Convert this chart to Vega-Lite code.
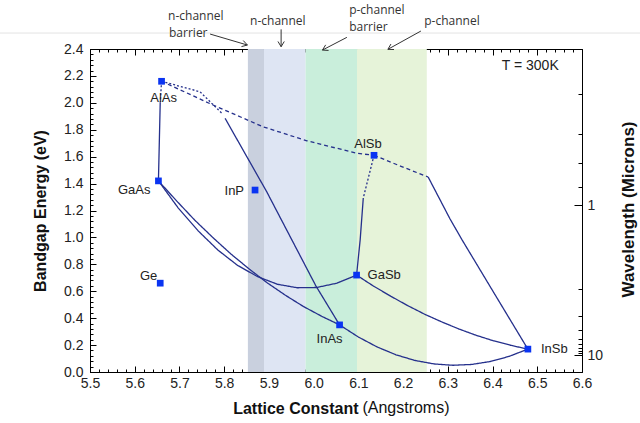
{
"$schema": "https://vega.github.io/schema/vega-lite/v6.json",
"width": 492, "height": 323, "autosize": "none",
"padding": {"left": 90, "top": 49, "right": 58, "bottom": 51},
"background": "#ffffff",
"config": {
  "font": "Liberation Sans",
  "view": {"stroke": "#000000", "strokeWidth": 1},
  "axis": {"zindex": 1, "grid": false, "domainColor": "#000000", "tickColor": "#000000", "domainWidth": 1, "tickWidth": 1, "labelColor": "#222222", "labelFont": "Liberation Sans", "labelFontSize": 14, "titleFont": "Liberation Sans", "titleColor": "#111111", "titleFontWeight": "bold", "labelOverlap": false, "labelFlush": false}
},
"datasets": {
  "bands": [
    {"x1": 5.853, "x2": 5.889, "zone": "n-channel barrier"},
    {"x1": 5.889, "x2": 5.982, "zone": "n-channel"},
    {"x1": 5.982, "x2": 6.097, "zone": "p-channel barrier"},
    {"x1": 6.097, "x2": 6.253, "zone": "p-channel"}
  ],
  "pts": [
    {"n": "AlAs", "a": 5.66, "e": 2.16},
    {"n": "GaAs", "a": 5.653, "e": 1.42},
    {"n": "Ge", "a": 5.657, "e": 0.66},
    {"n": "InP", "a": 5.869, "e": 1.352},
    {"n": "AlSb", "a": 6.135, "e": 1.61},
    {"n": "GaSb", "a": 6.096, "e": 0.72},
    {"n": "InAs", "a": 6.058, "e": 0.35},
    {"n": "InSb", "a": 6.479, "e": 0.17}
  ],
  "curves": [
    {"s": "AlGaAs-x", "o": 0, "a": 5.66, "e": 2.16, "g": "crossover"},
    {"s": "AlGaAs-x", "o": 1, "a": 5.657, "e": 2.0, "g": "crossover"},
    {"s": "AlGaAs", "o": 0, "a": 5.657, "e": 2.0, "g": "direct"},
    {"s": "AlGaAs", "o": 1, "a": 5.653, "e": 1.42, "g": "direct"},
    {"s": "GaInAs", "o": 0, "a": 5.653, "e": 1.42, "g": "direct"},
    {"s": "GaInAs", "o": 1, "a": 5.694, "e": 1.27, "g": "direct"},
    {"s": "GaInAs", "o": 2, "a": 5.734, "e": 1.129, "g": "direct"},
    {"s": "GaInAs", "o": 3, "a": 5.775, "e": 0.998, "g": "direct"},
    {"s": "GaInAs", "o": 4, "a": 5.815, "e": 0.877, "g": "direct"},
    {"s": "GaInAs", "o": 5, "a": 5.856, "e": 0.765, "g": "direct"},
    {"s": "GaInAs", "o": 6, "a": 5.896, "e": 0.663, "g": "direct"},
    {"s": "GaInAs", "o": 7, "a": 5.937, "e": 0.57, "g": "direct"},
    {"s": "GaInAs", "o": 8, "a": 5.977, "e": 0.487, "g": "direct"},
    {"s": "GaInAs", "o": 9, "a": 6.018, "e": 0.414, "g": "direct"},
    {"s": "GaInAs", "o": 10, "a": 6.058, "e": 0.35, "g": "direct"},
    {"s": "GaAsSb", "o": 0, "a": 5.653, "e": 1.42, "g": "direct"},
    {"s": "GaAsSb", "o": 1, "a": 5.697, "e": 1.22, "g": "direct"},
    {"s": "GaAsSb", "o": 2, "a": 5.742, "e": 1.048, "g": "direct"},
    {"s": "GaAsSb", "o": 3, "a": 5.786, "e": 0.906, "g": "direct"},
    {"s": "GaAsSb", "o": 4, "a": 5.83, "e": 0.792, "g": "direct"},
    {"s": "GaAsSb", "o": 5, "a": 5.875, "e": 0.708, "g": "direct"},
    {"s": "GaAsSb", "o": 6, "a": 5.919, "e": 0.652, "g": "direct"},
    {"s": "GaAsSb", "o": 7, "a": 5.963, "e": 0.626, "g": "direct"},
    {"s": "GaAsSb", "o": 8, "a": 6.007, "e": 0.628, "g": "direct"},
    {"s": "GaAsSb", "o": 9, "a": 6.052, "e": 0.66, "g": "direct"},
    {"s": "GaAsSb", "o": 10, "a": 6.096, "e": 0.72, "g": "direct"},
    {"s": "InAsSb", "o": 0, "a": 6.058, "e": 0.35, "g": "direct"},
    {"s": "InAsSb", "o": 1, "a": 6.1, "e": 0.26, "g": "direct"},
    {"s": "InAsSb", "o": 2, "a": 6.142, "e": 0.186, "g": "direct"},
    {"s": "InAsSb", "o": 3, "a": 6.184, "e": 0.128, "g": "direct"},
    {"s": "InAsSb", "o": 4, "a": 6.226, "e": 0.086, "g": "direct"},
    {"s": "InAsSb", "o": 5, "a": 6.269, "e": 0.06, "g": "direct"},
    {"s": "InAsSb", "o": 6, "a": 6.311, "e": 0.05, "g": "direct"},
    {"s": "InAsSb", "o": 7, "a": 6.353, "e": 0.056, "g": "direct"},
    {"s": "InAsSb", "o": 8, "a": 6.395, "e": 0.078, "g": "direct"},
    {"s": "InAsSb", "o": 9, "a": 6.437, "e": 0.116, "g": "direct"},
    {"s": "InAsSb", "o": 10, "a": 6.479, "e": 0.17, "g": "direct"},
    {"s": "GaInSb", "o": 0, "a": 6.096, "e": 0.72, "g": "direct"},
    {"s": "GaInSb", "o": 1, "a": 6.134, "e": 0.638, "g": "direct"},
    {"s": "GaInSb", "o": 2, "a": 6.173, "e": 0.562, "g": "direct"},
    {"s": "GaInSb", "o": 3, "a": 6.211, "e": 0.492, "g": "direct"},
    {"s": "GaInSb", "o": 4, "a": 6.249, "e": 0.428, "g": "direct"},
    {"s": "GaInSb", "o": 5, "a": 6.288, "e": 0.37, "g": "direct"},
    {"s": "GaInSb", "o": 6, "a": 6.326, "e": 0.318, "g": "direct"},
    {"s": "GaInSb", "o": 7, "a": 6.364, "e": 0.272, "g": "direct"},
    {"s": "GaInSb", "o": 8, "a": 6.402, "e": 0.232, "g": "direct"},
    {"s": "GaInSb", "o": 9, "a": 6.441, "e": 0.198, "g": "direct"},
    {"s": "GaInSb", "o": 10, "a": 6.479, "e": 0.17, "g": "direct"},
    {"s": "AlInAs-x", "o": 0, "a": 5.66, "e": 2.16, "g": "crossover"},
    {"s": "AlInAs-x", "o": 1, "a": 5.746, "e": 2.082, "g": "crossover"},
    {"s": "AlInAs-x", "o": 2, "a": 5.795, "e": 1.922, "g": "crossover"},
    {"s": "AlInAs", "o": 0, "a": 5.802, "e": 1.885, "g": "direct"},
    {"s": "AlInAs", "o": 1, "a": 5.895, "e": 1.34, "g": "direct"},
    {"s": "AlInAs", "o": 2, "a": 6.005, "e": 0.64, "g": "direct"},
    {"s": "AlInAs", "o": 3, "a": 6.058, "e": 0.35, "g": "direct"},
    {"s": "AlAsSb", "o": 0, "a": 5.66, "e": 2.16, "g": "indirect"},
    {"s": "AlAsSb", "o": 1, "a": 5.775, "e": 1.984, "g": "indirect"},
    {"s": "AlAsSb", "o": 2, "a": 5.887, "e": 1.822, "g": "indirect"},
    {"s": "AlAsSb", "o": 3, "a": 5.985, "e": 1.718, "g": "indirect"},
    {"s": "AlAsSb", "o": 4, "a": 6.097, "e": 1.625, "g": "indirect"},
    {"s": "AlAsSb", "o": 5, "a": 6.135, "e": 1.61, "g": "indirect"},
    {"s": "AlInSb-i", "o": 0, "a": 6.135, "e": 1.61, "g": "indirect"},
    {"s": "AlInSb-i", "o": 1, "a": 6.194, "e": 1.53, "g": "indirect"},
    {"s": "AlInSb-i", "o": 2, "a": 6.256, "e": 1.449, "g": "indirect"},
    {"s": "AlInSb", "o": 0, "a": 6.256, "e": 1.449, "g": "direct"},
    {"s": "AlInSb", "o": 1, "a": 6.305, "e": 1.137, "g": "direct"},
    {"s": "AlInSb", "o": 2, "a": 6.332, "e": 0.981, "g": "direct"},
    {"s": "AlInSb", "o": 3, "a": 6.406, "e": 0.572, "g": "direct"},
    {"s": "AlInSb", "o": 4, "a": 6.479, "e": 0.17, "g": "direct"},
    {"s": "AlGaSb-x", "o": 0, "a": 6.135, "e": 1.61, "g": "crossover"},
    {"s": "AlGaSb-x", "o": 1, "a": 6.111, "e": 1.293, "g": "crossover"},
    {"s": "AlGaSb", "o": 0, "a": 6.111, "e": 1.293, "g": "direct"},
    {"s": "AlGaSb", "o": 1, "a": 6.104, "e": 0.981, "g": "direct"},
    {"s": "AlGaSb", "o": 2, "a": 6.096, "e": 0.72, "g": "direct"}
  ],
  "notes": [
    {"t": "n-channel", "a": 5.6745, "e": 2.648},
    {"t": "barrier", "a": 5.6767, "e": 2.519},
    {"t": "n-channel", "a": 5.858, "e": 2.608},
    {"t": "p-channel", "a": 6.0794, "e": 2.692},
    {"t": "barrier", "a": 6.0794, "e": 2.56},
    {"t": "p-channel", "a": 6.2472, "e": 2.608}
  ],
  "arrows": [
    {"id": "nb", "a1": 5.7685, "e1": 2.511, "a2": 5.8519, "e2": 2.4294},
    {"id": "n", "a1": 5.9273, "e1": 2.546, "a2": 5.9273, "e2": 2.417},
    {"id": "pb", "a1": 6.0743, "e1": 2.4866, "a2": 6.0197, "e2": 2.392},
    {"id": "p", "a1": 6.2398, "e1": 2.5334, "a2": 6.166, "e2": 2.3975}
  ]
},
"resolve": {"axis": {"x": "independent", "y": "independent"}},
"layer": [
  {
    "data": {"name": "bands"},
    "mark": {"type": "rect"},
    "encoding": {
      "x": {"field": "x1", "type": "quantitative", "scale": {"domain": [5.5, 6.6], "nice": false, "zero": false}, "axis": null},
      "x2": {"field": "x2"},
      "color": {"field": "zone", "type": "nominal", "scale": {"domain": ["n-channel barrier", "n-channel", "p-channel barrier", "p-channel"], "range": ["#c9d0de", "#dee5f3", "#c9eedb", "#e6f3d9"]}, "legend": null}
    }
  },
  {
    "data": {"values": [{"a1": 5.29, "a2": 6.74, "e": 2.5186}]},
    "mark": {"type": "rule", "color": "#e3e3e3", "strokeWidth": 1},
    "encoding": {
      "x": {"field": "a1", "type": "quantitative", "scale": {"domain": [5.5, 6.6], "nice": false, "zero": false}, "axis": null},
      "x2": {"field": "a2"},
      "y": {"field": "e", "type": "quantitative", "scale": {"domain": [0, 2.4], "nice": false, "zero": false}, "axis": null}
    }
  },
  {
    "data": {"name": "curves"},
    "mark": {"type": "line", "color": "#25308c", "strokeWidth": 1.3},
    "encoding": {
      "x": {"field": "a", "type": "quantitative", "scale": {"domain": [5.5, 6.6], "nice": false, "zero": false},
        "axis": {"orient": "top", "labels": false, "title": null,
          "values": [5.5,5.52,5.54,5.56,5.58,5.6,5.62,5.64,5.66,5.68,5.7,5.72,5.74,5.76,5.78,5.8,5.82,5.84,5.86,5.88,5.9,5.92,5.94,5.96,5.98,6,6.02,6.04,6.06,6.08,6.1,6.12,6.14,6.16,6.18,6.2,6.22,6.24,6.26,6.28,6.3,6.32,6.34,6.36,6.38,6.4,6.42,6.44,6.46,6.48,6.5,6.52,6.54,6.56,6.58,6.6],
          "tickSize": {"condition": {"test": "abs(datum.value*10-round(datum.value*10))<0.01", "value": -6}, "value": -3}}},
      "y": {"field": "e", "type": "quantitative", "scale": {"domain": [0, 2.4], "nice": false, "zero": false},
        "axis": {"orient": "right",
          "values": [2.0667,1.7714,1.55,1.3778,1.24,0.62,0.4133,0.31,0.248,0.2067,0.1771,0.155,0.1378,0.124],
          "labelExpr": "datum.value==1.24 ? '1' : (datum.value==0.124 ? '10' : '')",
          "tickSize": {"condition": {"test": "datum.value==1.24 || datum.value==0.124", "value": -8}, "value": -4},
          "labelPadding": 13, "labelFontSize": 14,
          "title": "Wavelength (Microns)", "titleFontSize": 17, "titleAngle": 270, "titleX": 46, "titleY": 160, "titleAlign": "center", "titleBaseline": "middle"}},
      "detail": {"field": "s"},
      "order": {"field": "o", "type": "quantitative"},
      "strokeDash": {"field": "g", "type": "nominal", "scale": {"domain": ["direct", "indirect", "crossover"], "range": [[1, 0], [4, 3], [2, 2]]}, "legend": null}
    }
  },
  {
    "data": {"name": "pts"},
    "mark": {"type": "point", "shape": "square", "filled": true, "color": "#0a34f2", "size": 45, "opacity": 1},
    "encoding": {
      "x": {"field": "a", "type": "quantitative", "scale": {"domain": [5.5, 6.6], "nice": false, "zero": false},
        "axis": {"orient": "bottom",
          "values": [5.5,5.52,5.54,5.56,5.58,5.6,5.62,5.64,5.66,5.68,5.7,5.72,5.74,5.76,5.78,5.8,5.82,5.84,5.86,5.88,5.9,5.92,5.94,5.96,5.98,6,6.02,6.04,6.06,6.08,6.1,6.12,6.14,6.16,6.18,6.2,6.22,6.24,6.26,6.28,6.3,6.32,6.34,6.36,6.38,6.4,6.42,6.44,6.46,6.48,6.5,6.52,6.54,6.56,6.58,6.6],
          "labelExpr": "abs(datum.value*10-round(datum.value*10))<0.01 ? format(datum.value,'.1f') : ''",
          "tickSize": {"condition": {"test": "abs(datum.value*10-round(datum.value*10))<0.01", "value": -6}, "value": -3},
          "labelPadding": 10,
          "title": "Lattice Constant", "titleFontSize": 16, "titleX": 268, "titleAlign": "right", "titleY": 36, "titleBaseline": "middle"}},
      "y": {"field": "e", "type": "quantitative", "scale": {"domain": [0, 2.4], "nice": false, "zero": false},
        "axis": {"orient": "left",
          "values": [0,0.04,0.08,0.12,0.16,0.2,0.24,0.28,0.32,0.36,0.4,0.44,0.48,0.52,0.56,0.6,0.64,0.68,0.72,0.76,0.8,0.84,0.88,0.92,0.96,1,1.04,1.08,1.12,1.16,1.2,1.24,1.28,1.32,1.36,1.4,1.44,1.48,1.52,1.56,1.6,1.64,1.68,1.72,1.76,1.8,1.84,1.88,1.92,1.96,2,2.04,2.08,2.12,2.16,2.2,2.24,2.28,2.32,2.36,2.4],
          "labelExpr": "abs(datum.value*5-round(datum.value*5))<0.01 ? format(datum.value,'.1f') : ''",
          "tickSize": {"condition": {"test": "abs(datum.value*5-round(datum.value*5))<0.01", "value": -6}, "value": -3},
          "labelPadding": 13,
          "title": "Bandgap Energy (eV)", "titleFontSize": 16, "titleX": -50, "titleAngle": 270, "titleAlign": "center", "titleBaseline": "middle"}}
    }
  },
  {
    "data": {"values": [{"t": "(Angstroms)", "a": 6.109, "e": -0.2675}]},
    "mark": {"type": "text", "align": "left", "baseline": "middle", "fontSize": 16, "color": "#111111"},
    "encoding": {"x": {"field": "a", "type": "quantitative", "scale": {"domain": [5.5, 6.6], "nice": false, "zero": false}, "axis": null}, "y": {"field": "e", "type": "quantitative", "scale": {"domain": [0, 2.4], "nice": false, "zero": false}, "axis": null}, "text": {"field": "t"}}
  },
  {
    "data": {"name": "pts"}, "transform": [{"filter": "datum.n == 'AlAs'"}],
    "mark": {"type": "text", "align": "center", "baseline": "middle", "dx": 2, "dy": 17, "fontSize": 13, "color": "#222222"},
    "encoding": {"x": {"field": "a", "type": "quantitative", "scale": {"domain": [5.5, 6.6], "nice": false, "zero": false}, "axis": null}, "y": {"field": "e", "type": "quantitative", "scale": {"domain": [0, 2.4], "nice": false, "zero": false}, "axis": null}, "text": {"field": "n"}}
  },
  {
    "data": {"name": "pts"}, "transform": [{"filter": "datum.n == 'GaAs'"}],
    "mark": {"type": "text", "align": "right", "baseline": "middle", "dx": -8, "dy": 9, "fontSize": 13, "color": "#222222"},
    "encoding": {"x": {"field": "a", "type": "quantitative", "scale": {"domain": [5.5, 6.6], "nice": false, "zero": false}, "axis": null}, "y": {"field": "e", "type": "quantitative", "scale": {"domain": [0, 2.4], "nice": false, "zero": false}, "axis": null}, "text": {"field": "n"}}
  },
  {
    "data": {"name": "pts"}, "transform": [{"filter": "datum.n == 'InP'"}],
    "mark": {"type": "text", "align": "right", "baseline": "middle", "dx": -11, "dy": 1, "fontSize": 13, "color": "#222222"},
    "encoding": {"x": {"field": "a", "type": "quantitative", "scale": {"domain": [5.5, 6.6], "nice": false, "zero": false}, "axis": null}, "y": {"field": "e", "type": "quantitative", "scale": {"domain": [0, 2.4], "nice": false, "zero": false}, "axis": null}, "text": {"field": "n"}}
  },
  {
    "data": {"name": "pts"}, "transform": [{"filter": "datum.n == 'Ge'"}],
    "mark": {"type": "text", "align": "right", "baseline": "middle", "dx": -3, "dy": -7, "fontSize": 13, "color": "#222222"},
    "encoding": {"x": {"field": "a", "type": "quantitative", "scale": {"domain": [5.5, 6.6], "nice": false, "zero": false}, "axis": null}, "y": {"field": "e", "type": "quantitative", "scale": {"domain": [0, 2.4], "nice": false, "zero": false}, "axis": null}, "text": {"field": "n"}}
  },
  {
    "data": {"name": "pts"}, "transform": [{"filter": "datum.n == 'AlSb'"}],
    "mark": {"type": "text", "align": "center", "baseline": "middle", "dx": -6, "dy": -11, "fontSize": 13, "color": "#222222"},
    "encoding": {"x": {"field": "a", "type": "quantitative", "scale": {"domain": [5.5, 6.6], "nice": false, "zero": false}, "axis": null}, "y": {"field": "e", "type": "quantitative", "scale": {"domain": [0, 2.4], "nice": false, "zero": false}, "axis": null}, "text": {"field": "n"}}
  },
  {
    "data": {"name": "pts"}, "transform": [{"filter": "datum.n == 'GaSb'"}],
    "mark": {"type": "text", "align": "left", "baseline": "middle", "dx": 11, "dy": 0, "fontSize": 13, "color": "#222222"},
    "encoding": {"x": {"field": "a", "type": "quantitative", "scale": {"domain": [5.5, 6.6], "nice": false, "zero": false}, "axis": null}, "y": {"field": "e", "type": "quantitative", "scale": {"domain": [0, 2.4], "nice": false, "zero": false}, "axis": null}, "text": {"field": "n"}}
  },
  {
    "data": {"name": "pts"}, "transform": [{"filter": "datum.n == 'InAs'"}],
    "mark": {"type": "text", "align": "center", "baseline": "middle", "dx": -10, "dy": 14, "fontSize": 13, "color": "#222222"},
    "encoding": {"x": {"field": "a", "type": "quantitative", "scale": {"domain": [5.5, 6.6], "nice": false, "zero": false}, "axis": null}, "y": {"field": "e", "type": "quantitative", "scale": {"domain": [0, 2.4], "nice": false, "zero": false}, "axis": null}, "text": {"field": "n"}}
  },
  {
    "data": {"name": "pts"}, "transform": [{"filter": "datum.n == 'InSb'"}],
    "mark": {"type": "text", "align": "left", "baseline": "middle", "dx": 13, "dy": 0, "fontSize": 13, "color": "#222222"},
    "encoding": {"x": {"field": "a", "type": "quantitative", "scale": {"domain": [5.5, 6.6], "nice": false, "zero": false}, "axis": null}, "y": {"field": "e", "type": "quantitative", "scale": {"domain": [0, 2.4], "nice": false, "zero": false}, "axis": null}, "text": {"field": "n"}}
  },
  {
    "data": {"values": [{"t": "T = 300K", "a": 6.4843, "e": 2.273}]},
    "mark": {"type": "text", "align": "center", "baseline": "middle", "fontSize": 14, "color": "#222222"},
    "encoding": {"x": {"field": "a", "type": "quantitative", "scale": {"domain": [5.5, 6.6], "nice": false, "zero": false}, "axis": null}, "y": {"field": "e", "type": "quantitative", "scale": {"domain": [0, 2.4], "nice": false, "zero": false}, "axis": null}, "text": {"field": "t"}}
  },
  {
    "data": {"name": "notes"},
    "mark": {"type": "text", "align": "left", "baseline": "middle", "font": "Open Sans", "fontSize": 12, "color": "#333333"},
    "encoding": {"x": {"field": "a", "type": "quantitative", "scale": {"domain": [5.5, 6.6], "nice": false, "zero": false}, "axis": null}, "y": {"field": "e", "type": "quantitative", "scale": {"domain": [0, 2.4], "nice": false, "zero": false}, "axis": null}, "text": {"field": "t"}}
  },
  {
    "data": {"name": "arrows"},
    "mark": {"type": "rule", "color": "#333333", "strokeWidth": 1},
    "encoding": {"x": {"field": "a1", "type": "quantitative", "scale": {"domain": [5.5, 6.6], "nice": false, "zero": false}, "axis": null}, "y": {"field": "e1", "type": "quantitative", "scale": {"domain": [0, 2.4], "nice": false, "zero": false}, "axis": null}, "x2": {"field": "a2"}, "y2": {"field": "e2"}}
  },
  {
    "data": {"name": "arrows"},
    "mark": {"type": "point", "filled": false, "color": "#333333", "strokeWidth": 1, "size": 110, "opacity": 1},
    "encoding": {
      "x": {"field": "a2", "type": "quantitative", "scale": {"domain": [5.5, 6.6], "nice": false, "zero": false}, "axis": null},
      "y": {"field": "e2", "type": "quantitative", "scale": {"domain": [0, 2.4], "nice": false, "zero": false}, "axis": null},
      "shape": {"field": "id", "type": "nominal", "scale": {"domain": ["nb", "n", "pb", "p"], "range": ["M-0.79,-0.857L0,0L-1.128,0.293", "M0.6,-1L0,0L-0.6,-1", "M1.164,0.07L0,0L0.61,-0.994", "M1.166,0.04L0,0L0.584,-1.01"]}, "legend": null}
    }
  }
]
}
